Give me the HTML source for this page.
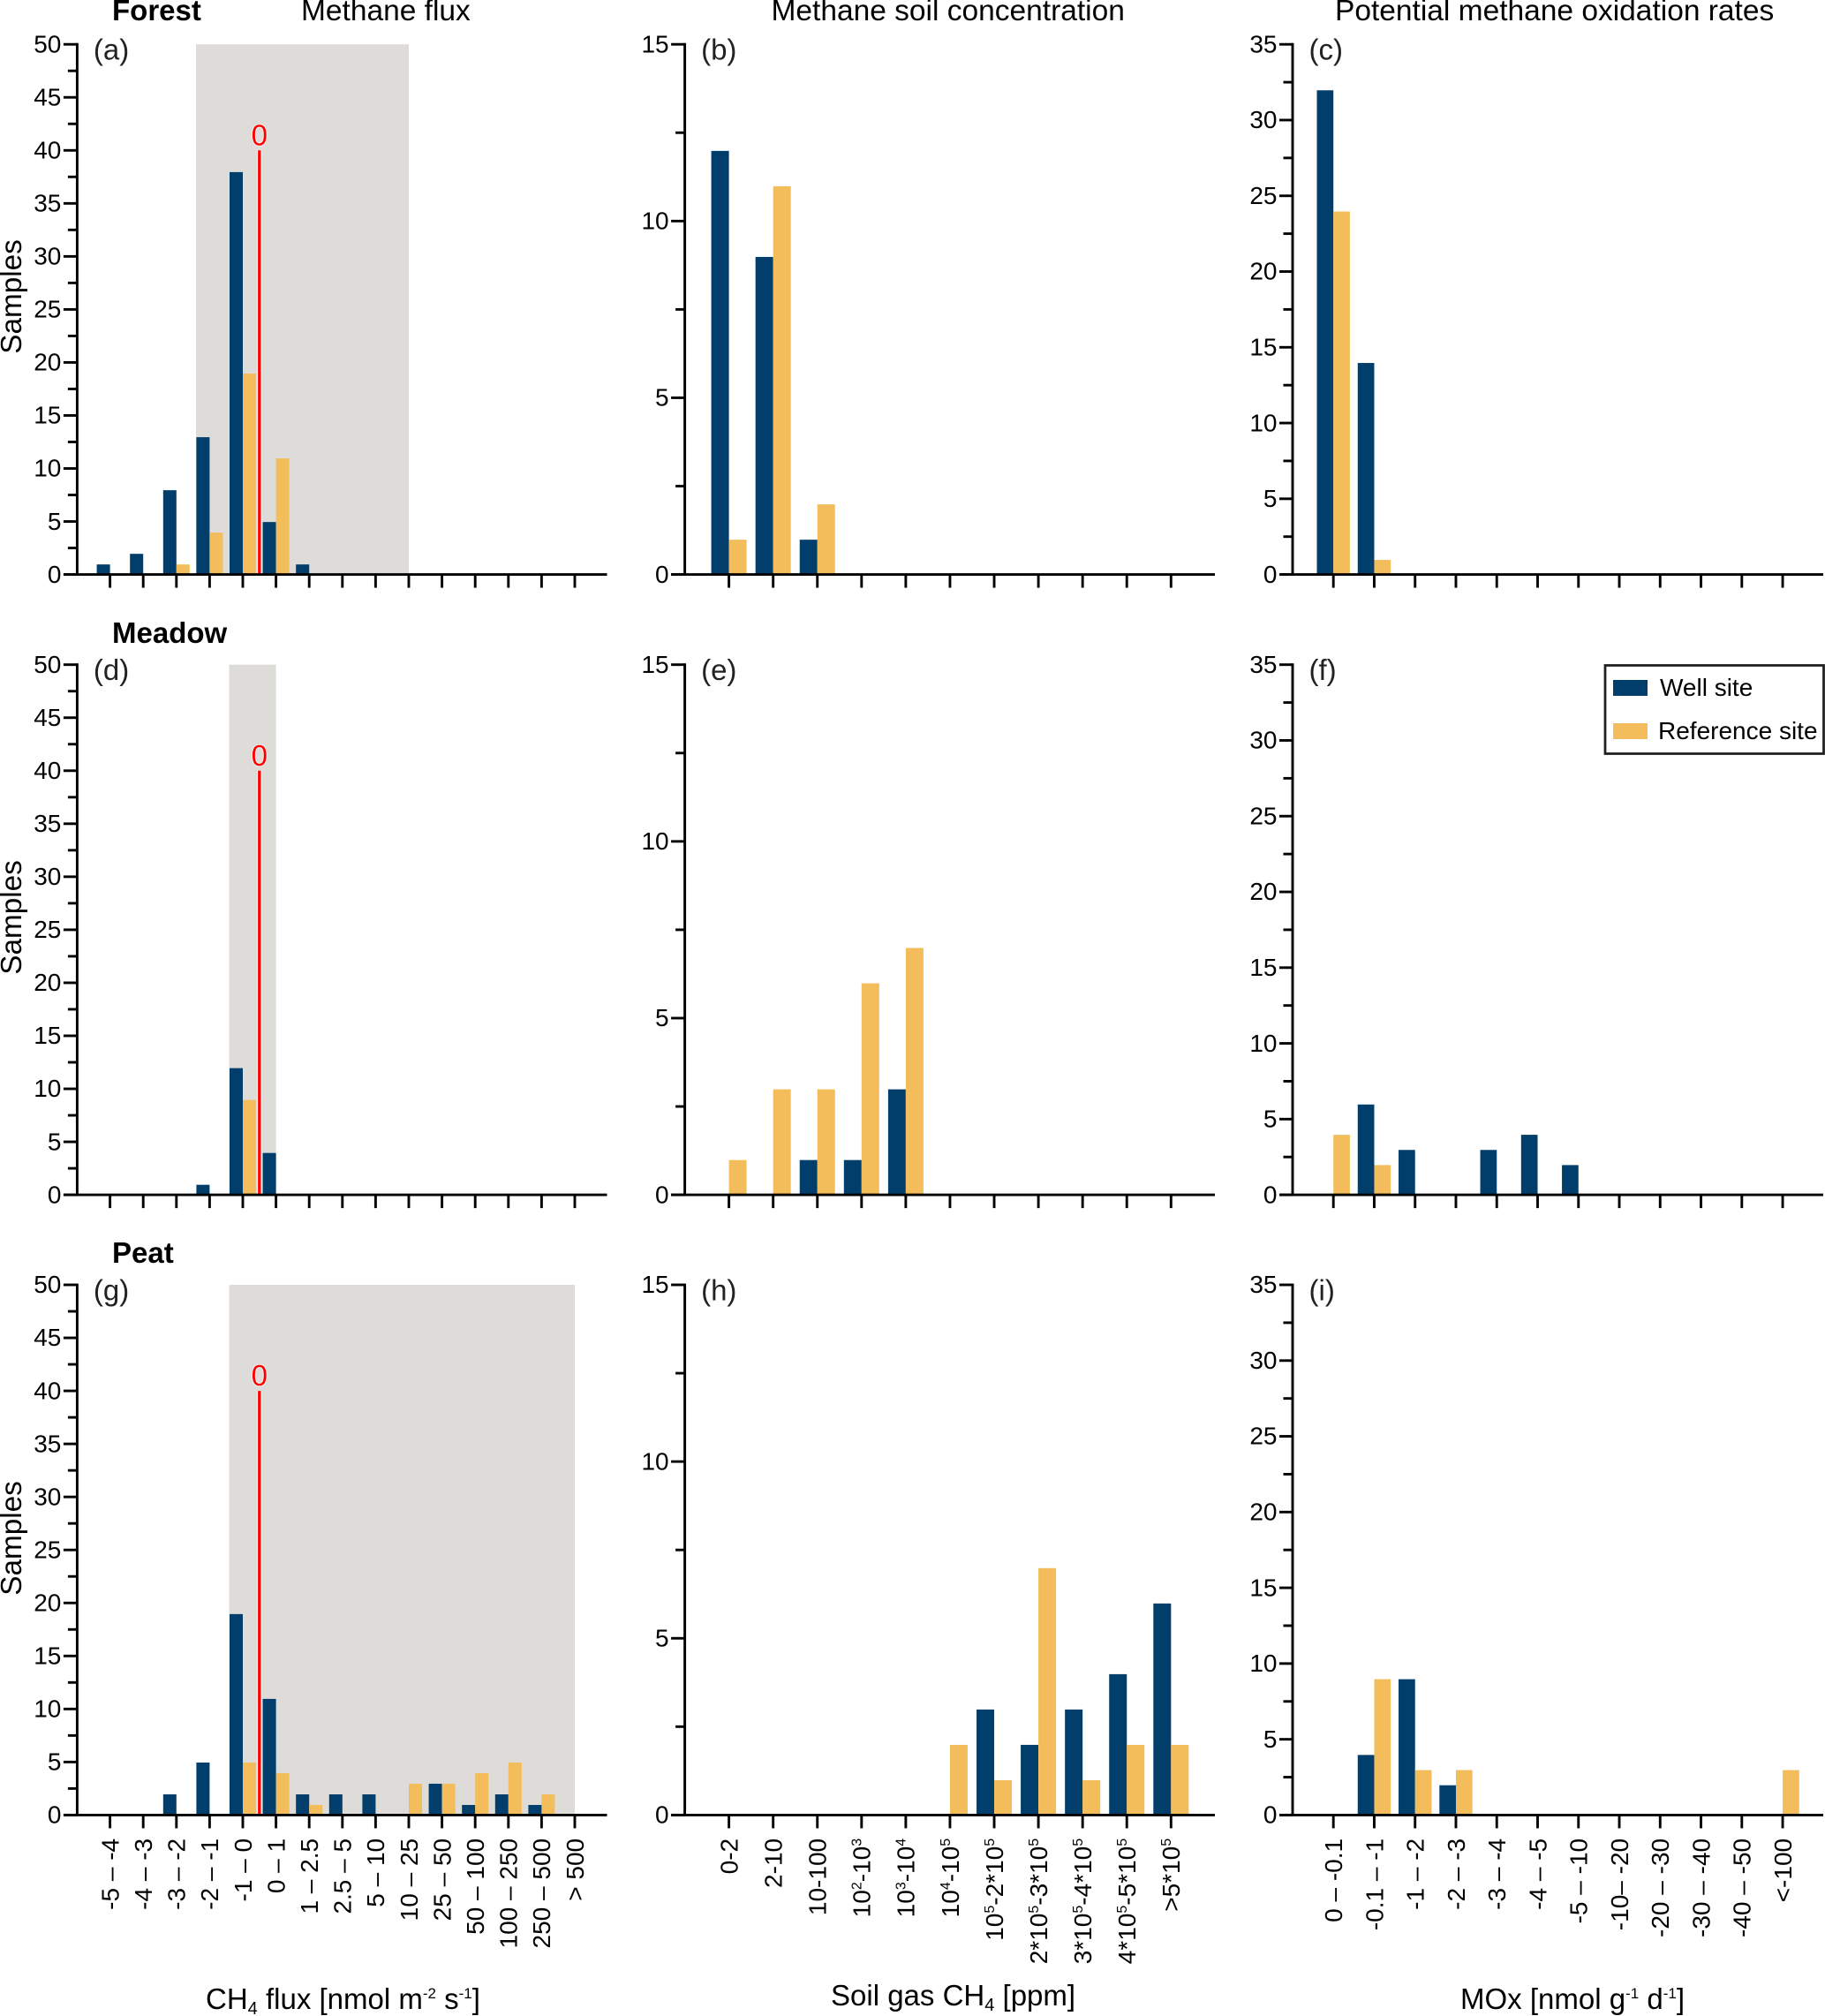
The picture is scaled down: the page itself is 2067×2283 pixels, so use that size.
<!DOCTYPE html>
<html lang="en">
<head>
<meta charset="utf-8">
<title>Methane flux, soil concentration and oxidation rates</title>
<style>
html,body{margin:0;padding:0;background:#fff;width:2067px;height:2283px;overflow:hidden}
svg{display:block;font-family:"Liberation Sans",Arial,sans-serif;fill:#000}
</style>
</head>
<body>
<svg id="chart" xmlns="http://www.w3.org/2000/svg" width="2067" height="2283" viewBox="0 0 2067 2283">
  <g font-size="33.5">
    <text x="341" y="23">Methane flux</text>
    <text x="873.5" y="23">Methane soil concentration</text>
    <text x="1512" y="23">Potential methane oxidation rates</text>
  </g>
  <g font-size="33" font-weight="bold">
    <text x="127" y="23">Forest</text>
    <text x="127" y="728">Meadow</text>
    <text x="127" y="1430">Peat</text>
  </g>
  <g font-size="33.3">
    <text text-anchor="middle" transform="translate(24 336) rotate(-90)">Samples</text>
    <text text-anchor="middle" transform="translate(24 1039) rotate(-90)">Samples</text>
    <text text-anchor="middle" transform="translate(24 1742) rotate(-90)">Samples</text>
  </g>
  <g font-size="33">
    <text x="233" y="2275">CH<tspan font-size="20" dy="6">4</tspan><tspan dy="-6"> flux [nmol m</tspan><tspan font-size="17" dy="-12">-2</tspan><tspan dy="12"> s</tspan><tspan font-size="17" dy="-12">-1</tspan><tspan dy="12">]</tspan></text>
    <text x="941" y="2271">Soil gas CH<tspan font-size="20" dy="6">4</tspan><tspan dy="-6"> [ppm]</tspan></text>
    <text x="1654" y="2275">MOx [nmol g<tspan font-size="17" dy="-12">-1</tspan><tspan dy="12"> d</tspan><tspan font-size="17" dy="-12">-1</tspan><tspan dy="12">]</tspan></text>
  </g>
  <g id="panels"></g>
  <g>
    <rect x="1818" y="753.5" width="247.5" height="100" fill="#fff" stroke="#222" stroke-width="2.8"/>
    <rect x="1827" y="770" width="39" height="18" fill="#023e6c"/>
    <text x="1880" y="788" font-size="28">Well site</text>
    <rect x="1827" y="819" width="39" height="18" fill="#f4bd5b"/>
    <text x="1878" y="837" font-size="28">Reference site</text>
  </g>
</svg>
<script>
// Category labels (^ marks a one-digit superscript)
const fluxCategories = ['-5 \u2013 -4','-4 \u2013 -3','-3 \u2013 -2','-2 \u2013 -1','-1 \u2013 0','0 \u2013 1','1 \u2013 2.5','2.5 \u2013 5','5 \u2013 10','10 \u2013 25','25 \u2013 50','50 \u2013 100','100 \u2013 250','250 \u2013 500','> 500'];
const soilCategories = ['0-2','2-10','10-100','10^2-10^3','10^3-10^4','10^4-10^5','10^5-2*10^5','2*10^5-3*10^5','3*10^5-4*10^5','4*10^5-5*10^5','>5*10^5'];
const moxCategories = ['0 \u2013 -0.1','-0.1 \u2013 -1','-1 \u2013 -2','-2 \u2013 -3','-3 \u2013 -4','-4 \u2013 -5','-5 \u2013 -10','-10\u2013 -20','-20 \u2013 -30','-30 \u2013 -40','-40 \u2013 -50','<-100'];

// Y tick labels
const fluxTicks = [0,5,10,15,20,25,30,35,40,45,50];
const soilTicks = [0,5,10,15];
const moxTicks = [0,5,10,15,20,25,30,35];

// Series values
const forestFluxWell = [1,2,8,13,38,5,1,0,0,0,0,0,0,0,0];
const forestFluxRef  = [0,0,1,4,19,11,0,0,0,0,0,0,0,0,0];
const meadowFluxWell = [0,0,0,1,12,4,0,0,0,0,0,0,0,0,0];
const meadowFluxRef  = [0,0,0,0,9,0,0,0,0,0,0,0,0,0,0];
const peatFluxWell   = [0,0,2,5,19,11,2,2,2,0,3,1,2,1,0];
const peatFluxRef    = [0,0,0,0,5,4,1,0,0,3,3,4,5,2,0];

const forestSoilWell = [12,9,1,0,0,0,0,0,0,0,0];
const forestSoilRef  = [1,11,2,0,0,0,0,0,0,0,0];
const meadowSoilWell = [0,0,1,1,3,0,0,0,0,0,0];
const meadowSoilRef  = [1,3,3,6,7,0,0,0,0,0,0];
const peatSoilWell   = [0,0,0,0,0,0,3,2,3,4,6];
const peatSoilRef    = [0,0,0,0,0,2,1,7,1,2,2];

const forestMoxWell = [32,14,0,0,0,0,0,0,0,0,0,0];
const forestMoxRef  = [24,1,0,0,0,0,0,0,0,0,0,0];
const meadowMoxWell = [0,6,3,0,3,4,2,0,0,0,0,0];
const meadowMoxRef  = [4,2,0,0,0,0,0,0,0,0,0,0];
const peatMoxWell   = [0,4,9,2,0,0,0,0,0,0,0,0];
const peatMoxRef    = [0,9,3,3,0,0,0,0,0,0,0,3];

// Shaded flux ranges in bin units, and the bin position of the zero marker
const forestShade = [2.59,9];
const meadowShade = [3.59,5];
const peatShade   = [3.59,14];
const zeroBin = 4.5;
const zeroMarkerValue = 40;

const columns = {
  flux: {axisX:87.4, firstTick:124.6, step:37.6, barW:15, endX:687.5, startX:72, major:15.5, ymax:50, cats:fluxCategories, ticks:fluxTicks},
  soil: {axisX:775.6, firstTick:825.6, step:50.07, barW:20, endX:1376, startX:760, major:15.5, ymax:15, cats:soilCategories, ticks:soilTicks},
  mox:  {axisX:1464, firstTick:1510.2, step:46.26, barW:18.7, endX:2065, startX:1449, major:15, ymax:35, cats:moxCategories, ticks:moxTicks}
};
const rows = {forest:{top:50.2}, meadow:{top:752.7}, peat:{top:1455}};
const plotH = 600.4;

const panels = [
  {id:'a',col:'flux',row:'forest',well:forestFluxWell,ref:forestFluxRef,shade:forestShade},
  {id:'b',col:'soil',row:'forest',well:forestSoilWell,ref:forestSoilRef},
  {id:'c',col:'mox', row:'forest',well:forestMoxWell, ref:forestMoxRef},
  {id:'d',col:'flux',row:'meadow',well:meadowFluxWell,ref:meadowFluxRef,shade:meadowShade},
  {id:'e',col:'soil',row:'meadow',well:meadowSoilWell,ref:meadowSoilRef},
  {id:'f',col:'mox', row:'meadow',well:meadowMoxWell, ref:meadowMoxRef},
  {id:'g',col:'flux',row:'peat',well:peatFluxWell,ref:peatFluxRef,shade:peatShade,labels:true},
  {id:'h',col:'soil',row:'peat',well:peatSoilWell,ref:peatSoilRef,labels:true},
  {id:'i',col:'mox', row:'peat',well:peatMoxWell, ref:peatMoxRef,labels:true}
];

const NS = 'http://www.w3.org/2000/svg';
const AXIS = '#000';
const AXIS_W = 2.9;
const WELL = '#023e6c';
const REF = '#f4bd5b';
const SHADE = '#dddcd8';
const BAR_TOP_INSET = 0.6;

function make(tag, parent, props) {
  const el = document.createElementNS(NS, tag);
  for (const k in props) el.setAttribute(k, props[k]);
  parent.appendChild(el);
  return el;
}
function xScale(c, bin) { return c.firstTick + bin * c.step; }
function yScale(c, r, v) { const base = r.top + plotH; return base - v / c.ymax * plotH; }

function drawCategoryLabel(g, text, x, y) {
  const t = make('text', g, {'text-anchor':'end','font-size':28,transform:'translate(' + (x + 9.8) + ' ' + y + ') rotate(-90)'});
  
  
  const parts = text.split(/\^(\d)/);
  let raised = false;
  parts.forEach(function (part, i) {
    if (!part) return;
    const s = document.createElementNS(NS, 'tspan');
    if (i % 2 === 1) {
      s.setAttribute('font-size', '16');
      s.setAttribute('dy', '-10');
      raised = true;
    } else if (raised) {
      s.setAttribute('dy', '10');
      raised = false;
    }
    s.textContent = part;
    t.appendChild(s);
  });
}

const root = document.getElementById('panels');
panels.forEach(function (p) {
  const c = columns[p.col];
  const r = rows[p.row];
  const y0 = yScale(c, r, 0);
  const yTop = yScale(c, r, c.ymax);
  const g = make('g', root, {});
  
  

  if (p.shade) {
    const sx = xScale(c, p.shade[0]);
    const ex = xScale(c, p.shade[1]);
    const rect = make('rect', g, {x:sx, y:yTop, width:ex - sx, height:y0 - yTop, fill:SHADE});
    
    
  }

  p.well.forEach(function (v, i) {
    if (!v) return;
    const y = yScale(c, r, v) + BAR_TOP_INSET;
    const bar = make('rect', g, {x:xScale(c, i) - c.barW, y:y, width:c.barW, height:y0 - y, fill:WELL});
    
    
  });
  p.ref.forEach(function (v, i) {
    if (!v) return;
    const y = yScale(c, r, v) + BAR_TOP_INSET;
    const bar = make('rect', g, {x:xScale(c, i), y:y, width:c.barW, height:y0 - y, fill:REF});
    
    
  });

  if (p.shade) {
    const zx = xScale(c, zeroBin);
    const zy = yScale(c, r, zeroMarkerValue);
    const halo = make('line', g, {x1:zx, x2:zx, y1:zy, y2:y0, stroke:'#fff', 'stroke-width':5.5, 'stroke-opacity':0.7});
    
    
    const zero = make('line', g, {x1:zx, x2:zx, y1:zy, y2:y0, stroke:'#f00', 'stroke-width':3.3});
    
    
    const zt = make('text', g, {x:zx, y:zy - 6, 'text-anchor':'middle', 'font-size':33, fill:'#f00', stroke:'#f4fbfb', 'stroke-width':1.6, 'paint-order':'stroke'});
    
    
    zt.textContent = '0';
  }

  // y axis
  const ya = make('line', g, {x1:c.axisX, x2:c.axisX, y1:yTop - 1.4, y2:y0, stroke:AXIS, 'stroke-width':AXIS_W});
  
  
  c.ticks.forEach(function (v, i) {
    const y = yScale(c, r, v);
    const tick = make('line', g, {x1:c.axisX - c.major, x2:c.axisX, y1:y, y2:y, stroke:AXIS, 'stroke-width':AXIS_W});
    
    
    const label = make('text', g, {x:c.axisX - c.major - 2.5, y:y + 9.2, 'text-anchor':'end', 'font-size':28});
    
    
    label.textContent = v;
    if (i < c.ticks.length - 1) {
      const my = yScale(c, r, (v + c.ticks[i + 1]) / 2);
      const minor = make('line', g, {x1:c.axisX - 10.5, x2:c.axisX, y1:my, y2:my, stroke:AXIS, 'stroke-width':AXIS_W});
      
      
    }
  });

  // x axis
  const xa = make('line', g, {x1:c.startX, x2:c.endX, y1:y0, y2:y0, stroke:AXIS, 'stroke-width':AXIS_W});
  
  
  c.cats.forEach(function (cat, i) {
    const x = xScale(c, i);
    const tick = make('line', g, {x1:x, x2:x, y1:y0, y2:y0 + 15, stroke:AXIS, 'stroke-width':AXIS_W});
    
    
    if (p.labels) drawCategoryLabel(g, cat, x, y0 + 26.5);
  });

  const letter = make('text', g, {x:c.axisX + 18.5, y:yTop + 17.5, 'font-size':33, fill:'#222'});
  
  
  letter.textContent = '(' + p.id + ')';
});
</script>
</body>
</html>
